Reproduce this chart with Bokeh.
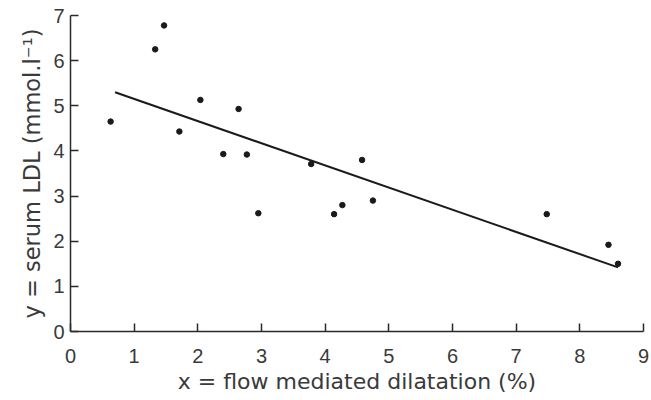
from bokeh.plotting import figure
from bokeh.models import Range1d, FixedTicker
from bokeh.embed import file_html
from bokeh.resources import INLINE

# data
fmd = [0.63, 1.33, 1.47, 1.71, 2.04, 2.40, 2.64, 2.77, 2.95, 3.78, 4.14, 4.27, 4.58, 4.75, 7.48, 8.45, 8.60]
ldl = [4.65, 6.25, 6.78, 4.43, 5.13, 3.93, 4.93, 3.92, 2.62, 3.71, 2.60, 2.80, 3.80, 2.90, 2.60, 1.92, 1.50]
fit_x = [0.70, 8.60]
fit_y = [5.30, 1.42]
x_ticks = [0, 1, 2, 3, 4, 5, 6, 7, 8, 9]
y_ticks = [0, 1, 2, 3, 4, 5, 6, 7]
x_title = "x = flow mediated dilatation (%)"
y_title = "y = serum LDL (mmol.l\u207b\u00b9)"

TICK_FONT = "Liberation Sans"
LAB_FONT = "DejaVu Sans"
TXT = "#3a3a3a"

p = figure(width=651, height=400, output_backend="svg", toolbar_location=None,
           x_range=Range1d(0, 9), y_range=Range1d(0, 7),
           min_border_left=70, min_border_right=8, min_border_top=15, min_border_bottom=69)
p.outline_line_color = None
p.grid.grid_line_color = None
p.background_fill_color = "white"
p.border_fill_color = "white"

p.line(fit_x, fit_y, line_color="#1a1a1a", line_width=2)
p.scatter(fmd, ldl, size=5.5, color="#1a1a1a")

for ax, ticks in ((p.xaxis, x_ticks), (p.yaxis, y_ticks)):
    ax.ticker = FixedTicker(ticks=ticks)
    ax.minor_tick_line_color = None
    ax.major_tick_in = 8
    ax.major_tick_out = 0
    ax.axis_line_width = 1.5
    ax.major_tick_line_width = 1.5
    ax.axis_line_color = "#2a2a2a"
    ax.major_tick_line_color = "#2a2a2a"
    ax.major_label_text_font = TICK_FONT
    ax.major_label_text_font_size = "20px"
    ax.major_label_text_color = TXT
    ax.axis_label_text_font = LAB_FONT
    ax.axis_label_text_font_style = "normal"
    ax.axis_label_text_color = TXT

p.xaxis.axis_label = x_title
p.yaxis.axis_label = y_title
p.xaxis.axis_label_text_font_size = "22px"
p.yaxis.axis_label_text_font_size = "22.5px"
p.xaxis.major_label_standoff = 17
p.yaxis.major_label_standoff = 6
p.xaxis.axis_label_standoff = 3
p.yaxis.axis_label_standoff = 5

open("out.html", "w").write(file_html(p, INLINE))
